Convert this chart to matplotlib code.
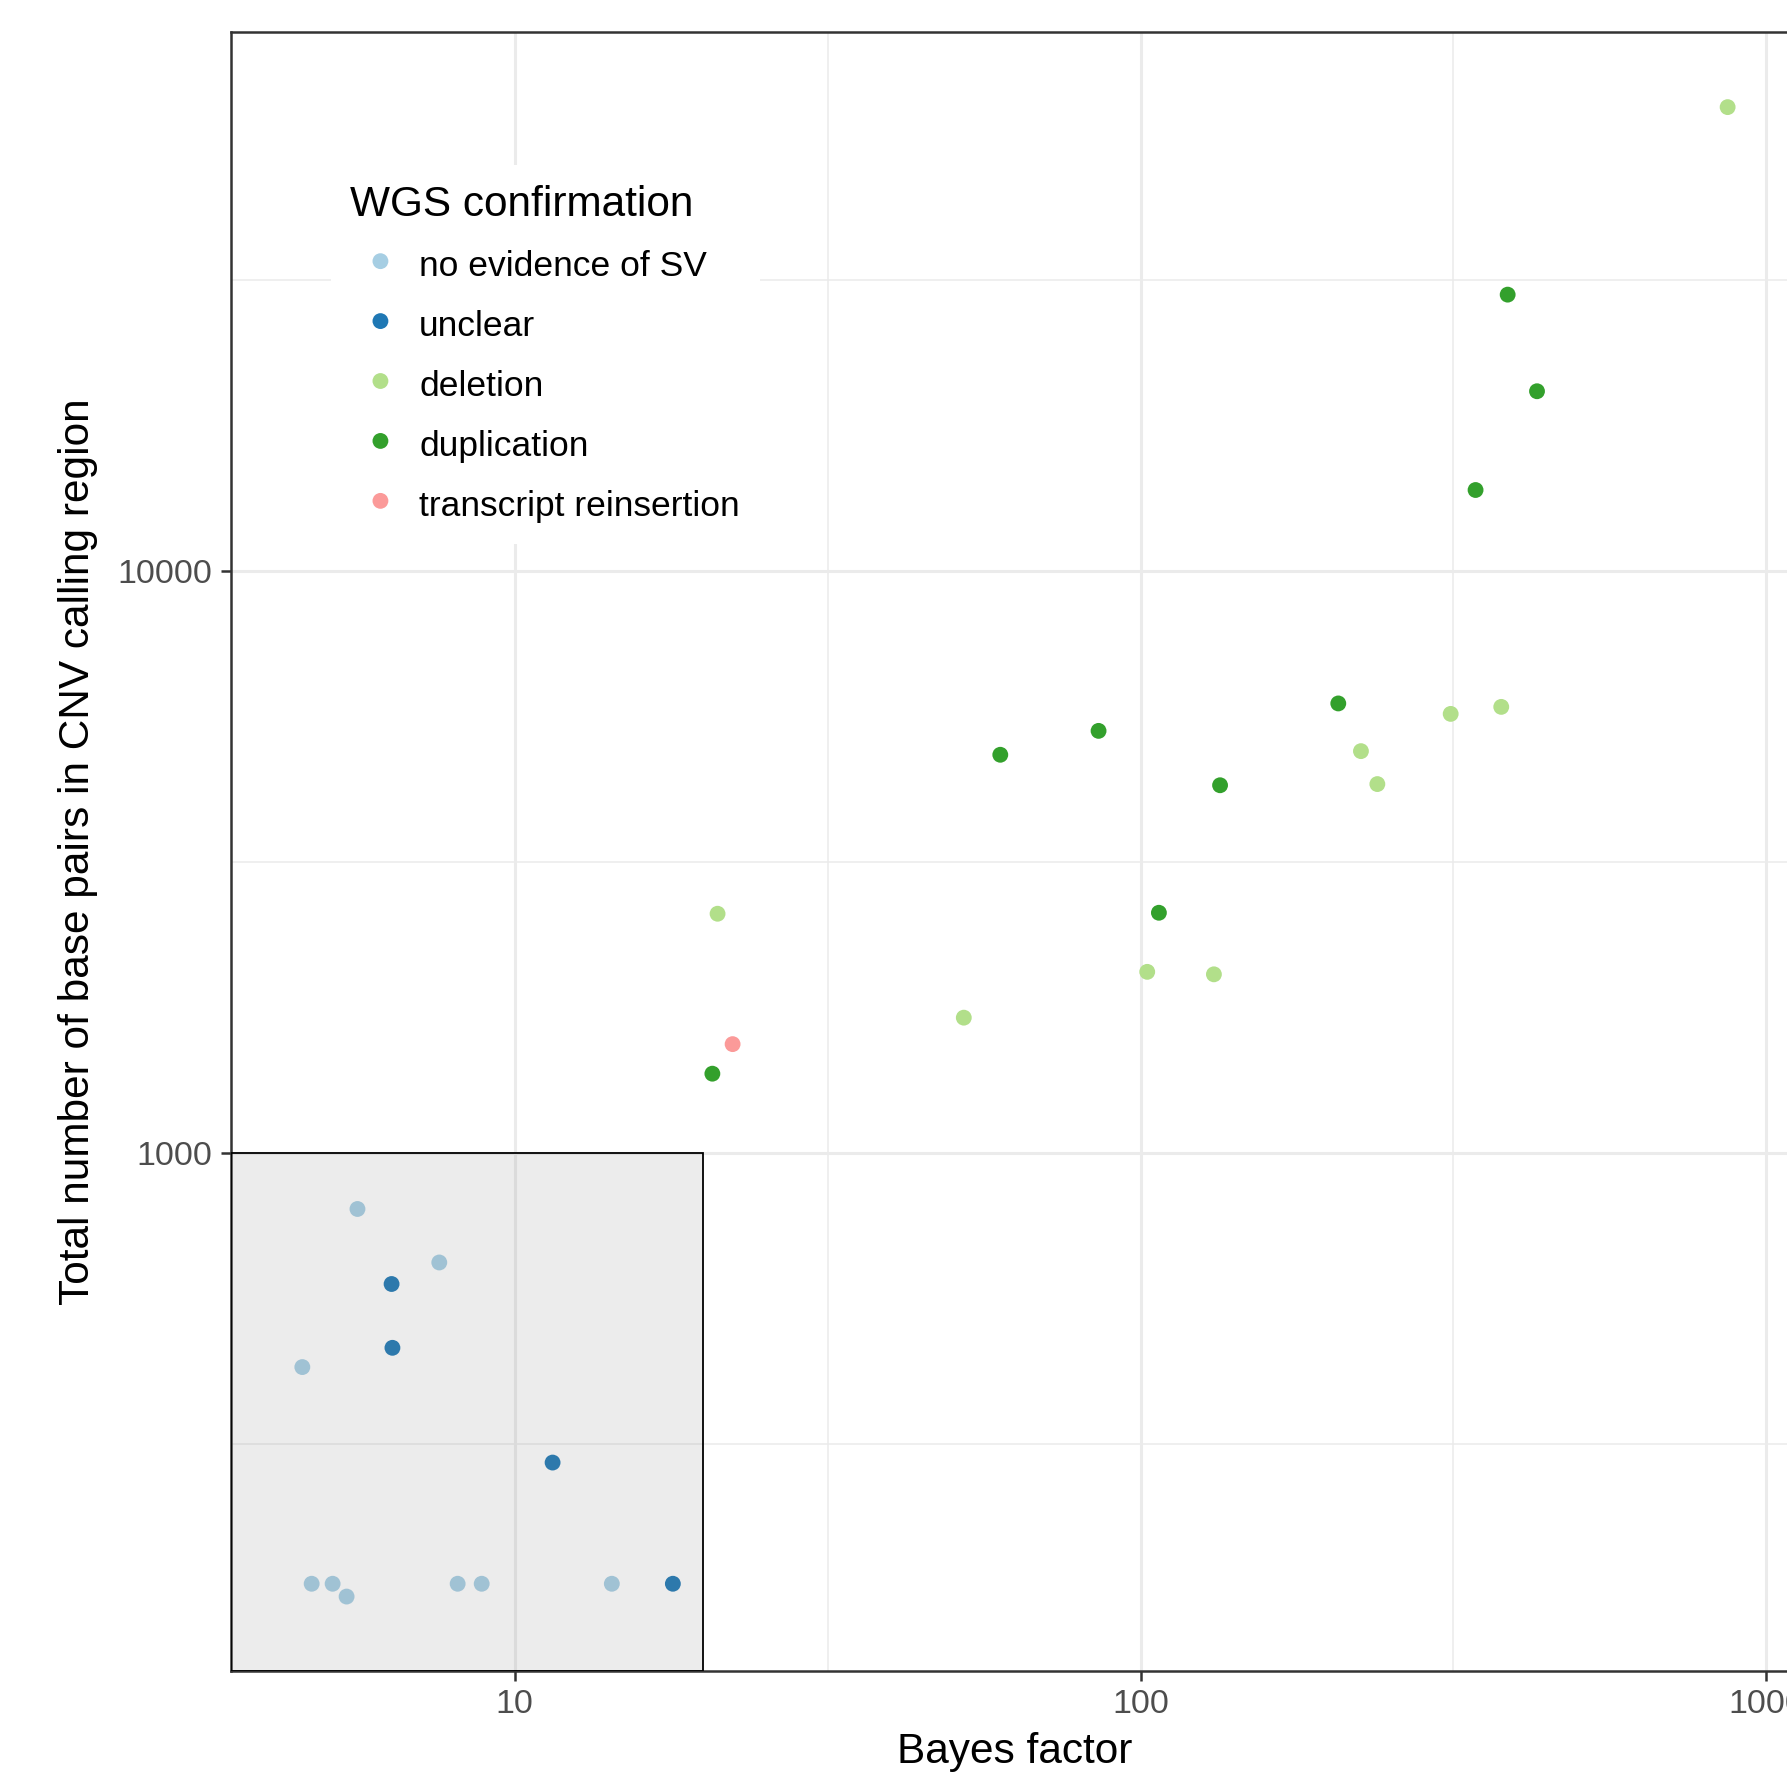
import matplotlib
matplotlib.use('Agg')
import matplotlib.pyplot as plt
from matplotlib.patches import Rectangle
from matplotlib.ticker import FixedLocator, FuncFormatter, NullFormatter

plt.rcParams['font.family'] = ['Liberation Sans', 'DejaVu Sans']

# legend categories and their colours (Paired palette)
categories = ['no evidence of SV', 'unclear', 'deletion', 'duplication', 'transcript reinsertion']
palette = ['#A6CEE3', '#1F78B4', '#B2DF8A', '#33A02C', '#FB9A99']

# Bayes factor (x) and total base pairs (y)
bf_none = [5.61, 7.58, 4.58, 4.74, 5.12, 5.39, 8.11, 8.86, 14.3]
bp_none = [802, 649, 429, 182, 182, 173, 182, 182, 182]

bf_unclear = [6.36, 6.38, 11.5, 17.9]
bp_unclear = [596, 463, 294, 182]

bf_del = [867, 313, 377, 225, 239, 21.1, 102.5, 131, 52.2]
bp_del = [62800, 5690, 5850, 4910, 4310, 2580, 2050, 2030, 1710]

bf_dup = [386, 430, 343, 207, 85.7, 59.7, 134, 107, 20.7]
bp_dup = [29900, 20400, 13800, 5930, 5320, 4840, 4290, 2590, 1370]

bf_reins = [22.3]
bp_reins = [1540]

series = [(bf_none, bp_none), (bf_unclear, bp_unclear), (bf_del, bp_del),
          (bf_dup, bp_dup), (bf_reins, bp_reins)]

# shaded low-evidence region
box_x_max = 20
box_y_max = 1000

fig = plt.figure(figsize=(17.87, 17.80), dpi=100)
ax = fig.add_axes([0.1293, 0.0612, 0.8774, 0.9208])
ax.set_xscale('log')
ax.set_yscale('log')
ax.set_xlim(10 ** 0.547, 10 ** 3.052)
ax.set_ylim(10 ** 2.110, 10 ** 4.927)

handles = []
for (xs, ys), col, lab in zip(series, palette, categories):
    h = ax.scatter(xs, ys, s=130, color=col, edgecolors='none', zorder=2, label=lab)
    handles.append(h)

x0, x1 = ax.get_xlim()
y0, y1 = ax.get_ylim()
ax.add_patch(Rectangle((x0, y0), box_x_max - x0, box_y_max - y0,
                       facecolor=(0.5, 0.5, 0.5, 0.15), edgecolor='black',
                       linewidth=1.3, zorder=3))

# grid like theme_bw
ax.xaxis.set_major_locator(FixedLocator([10, 100, 1000]))
ax.yaxis.set_major_locator(FixedLocator([1000, 10000]))
ax.xaxis.set_minor_locator(FixedLocator([10 ** 0.5, 10 ** 1.5, 10 ** 2.5, 10 ** 3.5]))
ax.yaxis.set_minor_locator(FixedLocator([10 ** 2.5, 10 ** 3.5, 10 ** 4.5]))
ax.xaxis.set_minor_formatter(NullFormatter())
ax.yaxis.set_minor_formatter(NullFormatter())
fmt = FuncFormatter(lambda v, p: '%d' % round(v))
ax.xaxis.set_major_formatter(fmt)
ax.yaxis.set_major_formatter(fmt)
ax.grid(which='major', color='#EBEBEB', linewidth=2.2, zorder=0)
ax.grid(which='minor', color='#EBEBEB', linewidth=1.1, zorder=0)
ax.set_axisbelow(True)

for sp in ax.spines.values():
    sp.set_color('#333333')
    sp.set_linewidth(1.8)
ax.tick_params(which='major', length=7.2, width=1.8, color='#333333',
               labelsize=24.5, labelcolor='#4D4D4D', pad=6)
ax.tick_params(which='minor', length=0)

ax.set_xlabel('Bayes factor', fontsize=30.5, labelpad=8)
ax.set_ylabel('Total number of base pairs in CNV calling region', fontsize=30.5, labelpad=14)

leg = ax.legend(handles=handles, title='WGS confirmation', loc='upper left',
                bbox_to_anchor=(330.5 / 1787, 1 - 165 / 1780), bbox_transform=fig.transFigure,
                borderaxespad=0, fontsize=25.5, title_fontsize=30.5, frameon=True,
                fancybox=False, framealpha=1, edgecolor='none', facecolor='white',
                handlelength=1.7, handleheight=1.38, handletextpad=0.24, labelspacing=0.55,
                borderpad=0.56, alignment='left', scatterpoints=1)
leg.set_zorder(5)

fig.savefig('out.png', dpi=100)
